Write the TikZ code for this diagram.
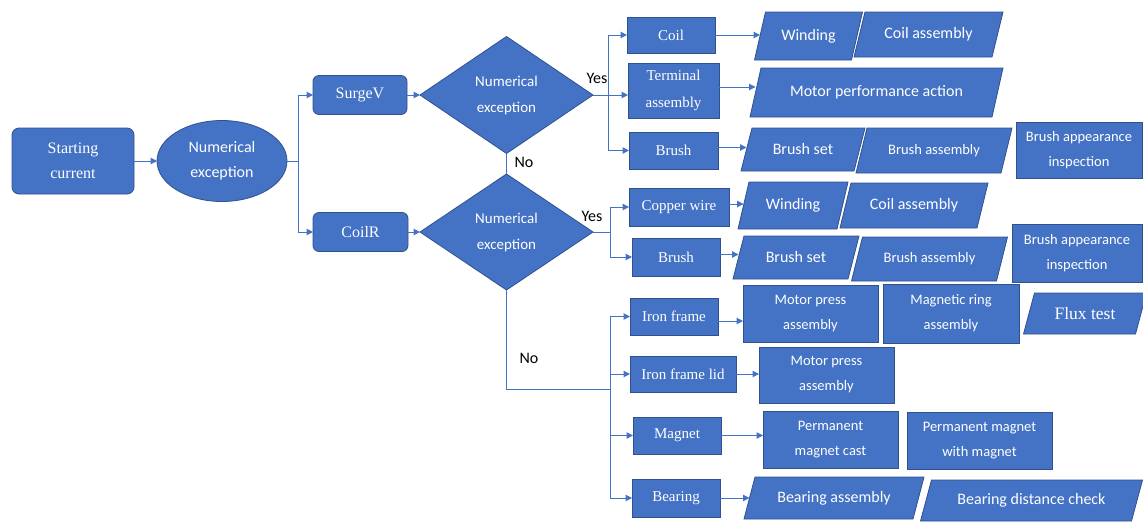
\documentclass[tikz,border=0pt]{standalone}
\usepackage{fontspec}
\setmainfont{Liberation Serif}
\newfontfamily\calf{Carlito}
\usetikzlibrary{shapes.geometric,arrows.meta,calc}
\definecolor{bfill}{HTML}{4472C4}
\definecolor{bline}{HTML}{2F528F}
\definecolor{lcol}{HTML}{4472C4}
\newcommand\fsA{\calf\fontsize{16}{25}\selectfont}
\newcommand\fsB{\calf\fontsize{14.5}{25}\selectfont}
\newcommand\fsC{\calf\fontsize{15}{26}\selectfont}
\newcommand\frA{\rmfamily\fontsize{16}{25}\selectfont}
\newcommand\frB{\rmfamily\fontsize{15}{27}\selectfont}
\newcommand\frC{\rmfamily\fontsize{17.5}{25}\selectfont}
\tikzset{
  boxsty/.style={fill=bfill, draw=bline, line width=0.8pt},
  txt/.style={text=white, align=center, inner sep=0pt, outer sep=0pt},
  rbox/.style={boxsty, txt, rectangle},
  rrbox/.style={boxsty, txt, rectangle, rounded corners=7pt},
  ln/.style={draw=lcol, line width=1pt},
  arr/.style={draw=lcol, line width=1pt, -{Triangle[length=6.5pt,width=6.5pt]}},
  lbl/.style={text=black, font=\calf\fontsize{16}{18}\selectfont, inner sep=0pt},
}
% name, cx, cy, w, h, font, text
\newcommand\pbox[7]{%
  \filldraw[boxsty] ({#2-#4/2+5.5},{#3-#5/2}) -- ({#2+#4/2+5.5},{#3-#5/2}) -- ({#2+#4/2-5.5},{#3+#5/2}) -- ({#2-#4/2-5.5},{#3+#5/2}) -- cycle;
  \node[txt, minimum width=#4, minimum height=#5, font=#6] (#1) at (#2,#3) {#7};
}
% name, cx, cy, w, h, font, text
\newcommand\rbx[7]{%
  \node[rbox, minimum width=#4, minimum height=#5, font=#6] (#1) at (#2,#3) {#7};
}
\begin{document}
\begin{tikzpicture}[x=1pt,y=-1pt]
\useasboundingbox (0,0) rectangle (1143,522);
\fill[white] (0,0) rectangle (1143,522);

% left part
\node[rrbox, minimum width=122, minimum height=66, font=\frA] (start) at (73,161) {Starting\\current};
\node[boxsty, txt, ellipse, minimum width=130, minimum height=81, font=\fsA] (ell) at (222,161) {Numerical\\exception};
\node[rrbox, rounded corners=6pt, minimum width=94, minimum height=39, font=\frA] (surge) at (360,95) {SurgeV};
\node[rrbox, rounded corners=6pt, minimum width=95, minimum height=39, font=\frA] (coilr) at (360.5,232) {CoilR};
\node[boxsty, txt, diamond, aspect=1.5, minimum width=173, minimum height=117, font=\fsC] (d1) at (506.5,95) {Numerical\\exception};
\node[boxsty, txt, diamond, aspect=1.5, minimum width=173, minimum height=116, font=\fsC] (d2) at (506.5,232) {Numerical\\exception};

% second column
\rbx{coil}{671}{35}{88}{36}{\frB}{Coil}
\rbx{term}{673.5}{90.5}{91}{55}{\frB}{Terminal\\assembly}
\rbx{brush1}{673.5}{150.5}{89}{37}{\frB}{Brush}
\rbx{copper}{679}{207}{100}{38}{\frB}{Copper wire}
\rbx{brush2}{676}{257}{88}{38}{\frB}{Brush}
\rbx{iron}{674}{316.5}{88}{37}{\frB}{Iron frame}
\rbx{lid}{683}{374}{106}{36}{\frB}{Iron frame lid}
\rbx{magnet}{677}{435.5}{88}{37}{\frB}{Magnet}
\rbx{bearing}{676}{498}{88}{38}{\frB}{Bearing}

% parallelograms
\pbox{wind1}{808.5}{36}{97}{48}{\fsA}{Winding}
\pbox{cass1}{928.5}{34.5}{138}{45}{\fsA}{Coil assembly}
\pbox{motor}{876.5}{92.5}{242}{49}{\fsA}{Motor performance action}
\pbox{bset1}{803}{149.5}{113}{43}{\fsA}{Brush set}
\pbox{bass1}{934}{150.5}{145}{45}{\fsB}{Brush assembly}
\pbox{wind2}{793}{205.5}{99}{47}{\fsA}{Winding}
\pbox{cass2}{914}{205.5}{137}{45}{\fsA}{Coil assembly}
\pbox{bset2}{796}{257.5}{115}{43}{\fsA}{Brush set}
\pbox{bass2}{929.5}{259}{145}{44}{\fsB}{Brush assembly}
\pbox{flux}{1085}{313.5}{112}{41}{\frC}{Flux test}
\pbox{bas}{834}{498}{169}{42}{\fsA}{Bearing assembly}
\pbox{bdc}{1031.5}{500.5}{211}{41}{\fsA}{Bearing distance check}

% rectangles with sans text
\rbx{bai1}{1079}{150}{126}{56}{\fsB}{Brush appearance\\inspection}
\rbx{bai2}{1077}{253}{130}{58}{\fsB}{Brush appearance\\inspection}
\rbx{mp1}{810.5}{313.5}{135}{57}{\fsB}{Motor press\\assembly}
\rbx{mring}{951}{313.5}{136}{59}{\fsB}{Magnetic ring\\assembly}
\rbx{mp2}{826.5}{375}{135}{56}{\fsB}{Motor press\\assembly}
\rbx{pmc}{830.5}{439.5}{135}{57}{\fsB}{Permanent\\magnet cast}
\rbx{pmwm}{979.5}{440.5}{145}{57}{\fsB}{Permanent magnet\\with magnet}

% connectors
\coordinate (s1) at (298,161);
\draw[arr] (start.east) -- (ell.west);
\draw[ln] (ell.east) -- (s1);
\draw[arr] (s1) |- (surge.west);
\draw[arr] (s1) |- (coilr.west);
\draw[arr] (surge.east) -- (d1.west);
\draw[arr] (coilr.east) -- (coilr.east -| d2.west);
\draw[ln] (d1.south) -- (d2.north);

\coordinate (s2) at (608,95);
\draw[ln] (d1.east) -- (s2);
\draw[arr] (s2) |- (coil.west);
\draw[arr] (s2) -- (s2 -| term.west);
\draw[arr] (s2) |- (brush1.west);

\coordinate (s3) at (610,232);
\draw[ln] (d2.east) -- (s3);
\draw[arr] (s3) |- (copper.west);
\draw[arr] (s3) |- (brush2.west);

\coordinate (s4) at (610,389);
\draw[ln] (d2.south) |- (s4);
\draw[arr] (s4) |- (iron.west);
\draw[arr] (s4) |- (lid.west);
\draw[arr] (s4) |- (magnet.west);
\draw[arr] (s4) |- (bearing.west);

\draw[arr] (coil.east) -- (coil.east -| wind1.west);
\draw[arr] ([yshift=3.5pt]term.east) -- ([yshift=3.5pt]term.east -| motor.west);
\draw[arr] ([yshift=3pt]brush1.east) -- ([yshift=3pt]brush1.east -| bset1.west);
\draw[arr] ([yshift=3pt]copper.east) -- ([yshift=3pt]copper.east -| wind2.west);
\draw[arr] ([yshift=2.5pt]brush2.east) -- ([yshift=2.5pt]brush2.east -| bset2.west);
\draw[arr] ([yshift=-4.5pt]iron.east) -- ([yshift=-4.5pt]iron.east -| mp1.west);
\draw[arr] (lid.east) -- (lid.east -| mp2.west);
\draw[arr] (magnet.east) -- (magnet.east -| pmc.west);
\draw[arr] (bearing.east) -- (bearing.east -| bas.west);

% labels
\node[lbl] (yes1) at (597,78) {Yes};
\node[lbl] (no1) at (524,162) {No};
\node[lbl] (yes2) at (592,216) {Yes};
\node[lbl] (no2) at (529,358) {No};
\end{tikzpicture}
\end{document}
